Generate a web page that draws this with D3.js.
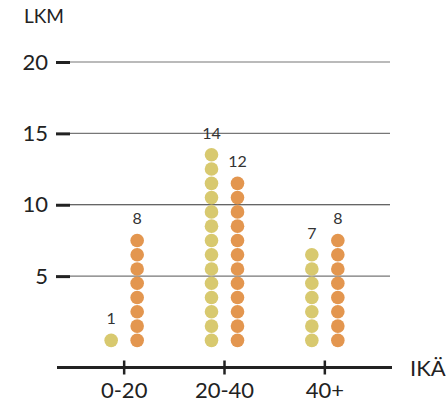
<!DOCTYPE html>
<html><head><meta charset="utf-8">
<script src="https://cdn.jsdelivr.net/npm/d3@7"></script>
<style>
html,body{margin:0;padding:0;background:#fff;}
svg{display:block;font-family:Lato,"Open Sans",sans-serif;}
</style></head>
<body><svg id="c" width="446" height="409"></svg>
<script>
const categories = ["0-20", "20-40", "40+"];
const seriesNames = ["yellow", "orange"];
const yellowValues = [1, 14, 7];
const orangeValues = [8, 12, 8];
const yTicks = [5, 10, 15, 20];
const yTitle = "LKM";
const xTitle = "IKÄ";
const colors = ["#d8c96f", "#e3964f"];

const svg = d3.select("#c");
const y = d3.scaleLinear().domain([0, 20]).range([347.5, 62]);
const x = d3.scaleBand().domain(categories).range([74, 375]).padding(0);
const inner = d3.scaleBand().domain(seriesNames).range([-26, 26]);
const cx = c => x(c) + x.bandwidth() / 2;

// gridlines
svg.append("g").selectAll("line").data(yTicks).join("line")
  .attr("x1", 70).attr("x2", 390)
  .attr("y1", d => y(d)).attr("y2", d => y(d))
  .attr("stroke", d => d === 10 ? "#333" : "#777").attr("stroke-width", 1.2);

// y axis
const yAxis = d3.axisLeft(y).tickValues(yTicks).tickSize(14).tickPadding(8);
const ya = svg.append("g").attr("transform", "translate(70,0)").call(yAxis);
ya.select(".domain").remove();
ya.selectAll(".tick line").attr("stroke", "#222").attr("stroke-width", 3);
ya.selectAll(".tick text").attr("font-size", 22).attr("fill", "#222")
  .attr("font-family", "Lato, sans-serif");

// y title
svg.append("text").attr("x", 24).attr("y", 23).text(yTitle)
  .attr("font-size", 19).attr("fill", "#222");

// dots
const series = [yellowValues, orangeValues];
series.forEach((vals, si) => {
  const g = svg.append("g");
  categories.forEach((cat, ci) => {
    const n = vals[ci];
    const pts = d3.range(n).map(i => i + 0.5);
    g.selectAll(null).data(pts).join("circle")
      .attr("cx", cx(cat) + inner(seriesNames[si]) + inner.bandwidth() / 2)
      .attr("cy", d => y(d))
      .attr("r", 6.8)
      .attr("fill", colors[si]);
    g.append("text")
      .attr("x", cx(cat) + inner(seriesNames[si]) + inner.bandwidth() / 2)
      .attr("y", y(n - 0.5) - 16)
      .attr("text-anchor", "middle")
      .attr("font-size", 16).attr("fill", "#333")
      .text(n);
  });
});

// x axis
const xa = svg.append("g").attr("transform", "translate(0,367.5)");
xa.append("line").attr("x1", 57).attr("x2", 392).attr("stroke", "#222").attr("stroke-width", 3);
xa.selectAll(".t").data(categories).join("line")
  .attr("x1", d => cx(d)).attr("x2", d => cx(d))
  .attr("y1", -7).attr("y2", 7).attr("stroke", "#222").attr("stroke-width", 2.5);
xa.selectAll(".l").data(categories).join("text")
  .attr("x", d => cx(d)).attr("y", 30)
  .attr("text-anchor", "middle").attr("font-size", 22).attr("fill", "#222")
  .text(d => d);
svg.append("text").attr("x", 410).attr("y", 376).text(xTitle)
  .attr("font-size", 22).attr("fill", "#222");
</script></body></html>
